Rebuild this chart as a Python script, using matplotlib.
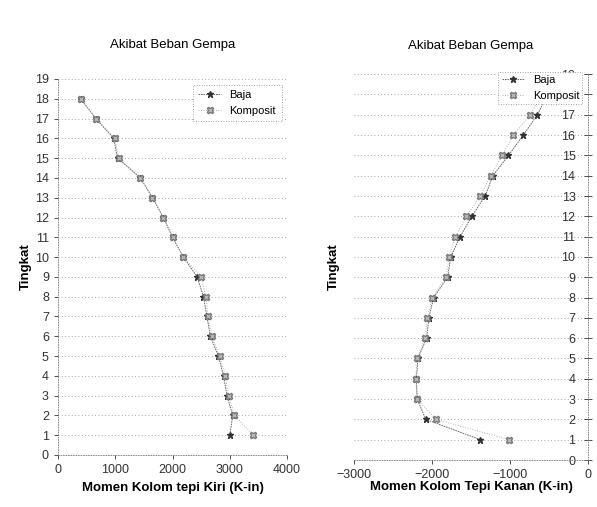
import matplotlib
matplotlib.use('Agg')
import matplotlib.pyplot as plt

plt.rcParams['font.family'] = ['Liberation Sans', 'DejaVu Sans']

tingkat = list(range(1, 19))

# kiri (K-in)
kiri_baja = [3000, 3050, 2950, 2890, 2800, 2660, 2600, 2540, 2430, 2190,
             2000, 1840, 1650, 1440, 1040, 975, 660, 400]
kiri_komposit = [3410, 3080, 2980, 2920, 2820, 2690, 2620, 2580, 2500, 2190,
                 2000, 1840, 1650, 1440, 1060, 990, 670, 400]

# kanan (K-in)
kanan_baja = [-1380, -2080, -2190, -2200, -2180, -2070, -2040, -1980, -1800, -1760,
              -1640, -1490, -1320, -1220, -1020, -830, -650, -520]
kanan_komposit = [-1010, -1950, -2190, -2210, -2190, -2090, -2060, -2000, -1820, -1780,
                  -1700, -1560, -1380, -1250, -1100, -960, -740, -600]

yticks = list(range(0, 20))

fig = plt.figure(figsize=(5.97, 5.07), dpi=100)

ax1 = fig.add_axes([0.097, 0.1026, 0.384, 0.7416])
ax2 = fig.add_axes([0.593, 0.0927, 0.392, 0.761])

def style(ax):
    for y in yticks:
        ax.axhline(y, color='#888888', lw=0.6, ls=(0, (1, 3)), zorder=0)
    for s in ax.spines.values():
        s.set_linestyle((0, (1, 2)))
        s.set_linewidth(0.6)
        s.set_color('#777777')
    ax.set_ylim(0, 19)
    ax.set_yticks(yticks)
    ax.tick_params(labelsize=9, colors='#333333', length=3, width=0.6)

ax1.plot(kiri_baja, tingkat, color='#555555', lw=0.6, ls=(0, (2, 1)), marker='*', ms=5,
         mfc='#333333', mec='#333333', label='Baja')
ax1.plot(kiri_komposit, tingkat, color='#999999', lw=0.6, ls=(0, (1, 2)), marker='X', ms=5,
         mfc='#bbbbbb', mec='#777777', label='Komposit')
style(ax1)
ax1.set_xlim(0, 4000)
ax1.set_xticks([0, 1000, 2000, 3000, 4000])
ax1.spines['top'].set_visible(False)
ax1.spines['right'].set_visible(False)
ax1.set_title('Akibat Beban Gempa', fontsize=9.5, pad=22)
ax1.set_xlabel('Momen Kolom tepi Kiri (K-in)', fontsize=9.5, fontweight='bold')
ax1.set_ylabel('Tingkat', fontsize=9.5, fontweight='bold', labelpad=2)
leg1 = ax1.legend(loc='upper right', fontsize=8, frameon=True, fancybox=False,
                  edgecolor='#888888', borderpad=0.5, handlelength=2, framealpha=1)
leg1.get_frame().set_linestyle((0, (1, 2)))
leg1.get_frame().set_linewidth(0.6)

ax2.plot(kanan_baja, tingkat, color='#555555', lw=0.6, ls=(0, (2, 1)), marker='*', ms=5,
         mfc='#333333', mec='#333333', label='Baja')
ax2.plot(kanan_komposit, tingkat, color='#999999', lw=0.6, ls=(0, (1, 2)), marker='X', ms=5,
         mfc='#bbbbbb', mec='#777777', label='Komposit')
style(ax2)
ax2.set_xlim(-3000, 0)
ax2.set_xticks([-3000, -2000, -1000, 0])
ax2.spines['top'].set_visible(False)
ax2.spines['left'].set_visible(False)
ax2.yaxis.tick_right()
ax2.tick_params(axis='y', direction='inout', length=6, pad=-12)
for lab in ax2.get_yticklabels():
    lab.set_horizontalalignment('right')
ax2.set_title('Akibat Beban Gempa', fontsize=9.5, pad=18)
ax2.set_xlabel('Momen Kolom Tepi Kanan (K-in)', fontsize=9.5, fontweight='bold', labelpad=0)
ax2.set_ylabel('Tingkat', fontsize=9.5, fontweight='bold', labelpad=10)
leg2 = ax2.legend(loc='upper right', fontsize=8, frameon=True, fancybox=False,
                  edgecolor='#888888', borderpad=0.3, handlelength=2, framealpha=1,
                  bbox_to_anchor=(1.0, 1.02))
leg2.get_frame().set_linestyle((0, (1, 2)))
leg2.get_frame().set_linewidth(0.6)
leg2.set_zorder(10)

fig.savefig('out.png', dpi=100)
